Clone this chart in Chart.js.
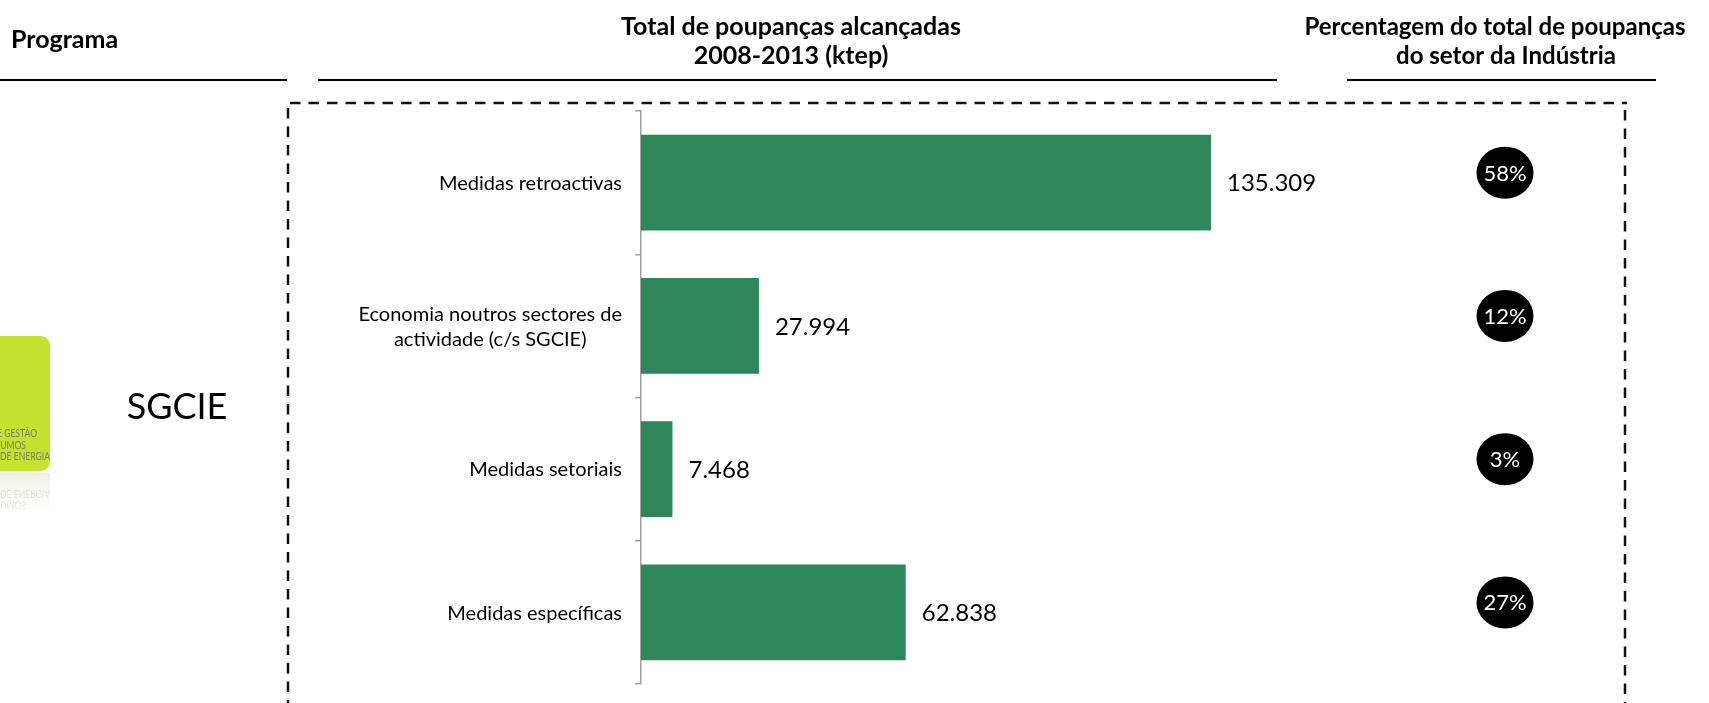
<!DOCTYPE html>
<html><head><meta charset="utf-8">
<script src="https://cdn.jsdelivr.net/npm/chart.js@4.4.1/dist/chart.umd.min.js"></script>
<style>html,body{margin:0;padding:0;background:#fff;overflow:hidden}#wrap{width:1709px;height:703px;position:relative}</style>
</head><body><div id="wrap"><canvas id="c"></canvas></div>
<script>
// ---- data ----
const categories = [
  ['Medidas retroactivas'],
  ['Economia noutros sectores de', 'actividade (c/s SGCIE)'],
  ['Medidas setoriais'],
  ['Medidas específicas']
];
const savings = [135309, 27994, 7468, 62838];
const shares = [58, 12, 3, 27];
const programmeName = 'SGCIE';
const headerProgramme = 'Programa';
const headerSavings = ['Total de poupanças alcançadas', '2008-2013 (ktep)'];
const headerShare = ['Percentagem do total de poupanças', 'do setor da Indústria'];
const logoLines = ['DE GESTÃO', 'SUMOS', 'OS DE ENERGIA'];
const xMax = 160000;

function fmt(v) { return String(v).replace(/\B(?=(\d{3})+(?!\d))/g, '.'); }
const FONT = 'Lato, "Open Sans", sans-serif';

function roundRect(ctx, x, y, w, h, r) {
  ctx.beginPath();
  ctx.moveTo(x + r, y);
  ctx.lineTo(x + w - r, y); ctx.quadraticCurveTo(x + w, y, x + w, y + r);
  ctx.lineTo(x + w, y + h - r); ctx.quadraticCurveTo(x + w, y + h, x + w - r, y + h);
  ctx.lineTo(x + r, y + h); ctx.quadraticCurveTo(x, y + h, x, y + h - r);
  ctx.lineTo(x, y + r); ctx.quadraticCurveTo(x, y, x + r, y);
  ctx.closePath();
}

function condensedText(ctx, text, rightX, y, k) {
  ctx.save();
  ctx.translate(rightX, y);
  ctx.scale(k, 1);
  ctx.textAlign = 'right';
  ctx.fillText(text, 0, 0);
  ctx.restore();
}

const deco = {
  id: 'deco',
  beforeDraw(chart) {
    const ctx = chart.ctx;
    ctx.save();
    // headers
    ctx.fillStyle = '#000';
    ctx.font = `bold 25px ${FONT}`;
    ctx.textBaseline = 'alphabetic';
    ctx.textAlign = 'left';
    ctx.fillText(headerProgramme, 11, 48);
    ctx.textAlign = 'center';
    ctx.fillText(headerSavings[0], 791, 35);
    ctx.fillText(headerSavings[1], 791, 64);
    ctx.font = `bold 24px ${FONT}`;
    ctx.fillText(headerShare[0], 1495, 35);
    ctx.fillText(headerShare[1], 1506, 64);
    // rules
    ctx.strokeStyle = '#000'; ctx.lineWidth = 2;
    [[0, 287], [318, 1277], [1347, 1656]].forEach(([a, b]) => {
      ctx.beginPath(); ctx.moveTo(a, 80); ctx.lineTo(b, 80); ctx.stroke();
    });
    // dashed frame
    ctx.setLineDash([10.5, 8]); ctx.lineWidth = 2.5; ctx.strokeStyle = '#111';
    ctx.beginPath(); ctx.moveTo(290, 103); ctx.lineTo(1627, 103); ctx.stroke();
    ctx.beginPath(); ctx.moveTo(288, 108); ctx.lineTo(288, 712); ctx.stroke();
    ctx.beginPath(); ctx.moveTo(1625, 110); ctx.lineTo(1625, 712); ctx.stroke();
    ctx.setLineDash([]);
    // logo (partially off-canvas)
    ctx.fillStyle = '#c4e22e';
    roundRect(ctx, -30, 336, 80, 135, 11); ctx.fill();
    const g = ctx.createLinearGradient(0, 473, 0, 525);
    g.addColorStop(0, 'rgba(215,225,190,0.45)');
    g.addColorStop(1, 'rgba(255,255,255,0)');
    ctx.fillStyle = g;
    ctx.fillRect(0, 473, 50, 52);
    ctx.font = `11px ${FONT}`;
    ctx.fillStyle = '#7a7e68';
    condensedText(ctx, logoLines[0], 37, 437, 0.78);
    condensedText(ctx, logoLines[1], 26, 449, 0.78);
    condensedText(ctx, logoLines[2], 50, 460, 0.78);
    ctx.fillStyle = 'rgba(150,150,140,0.22)';
    ctx.save(); ctx.translate(0, 950); ctx.scale(1, -1);
    condensedText(ctx, logoLines[2], 50, 460, 0.78);
    condensedText(ctx, logoLines[1], 26, 449, 0.78);
    ctx.restore();
    // programme name
    ctx.fillStyle = '#000';
    ctx.font = `36px ${FONT}`;
    ctx.textAlign = 'center';
    ctx.fillText(programmeName, 177, 419);
    ctx.restore();
  },
  afterDatasetsDraw(chart) {
    const ctx = chart.ctx;
    const yS = chart.scales.y;
    const meta = chart.getDatasetMeta(0);
    ctx.save();
    ctx.textBaseline = 'alphabetic';
    // value labels
    ctx.font = `24px ${FONT}`;
    ctx.fillStyle = '#000';
    ctx.textAlign = 'left';
    meta.data.forEach((bar, i) => {
      ctx.fillText(fmt(savings[i]), bar.x + 16, bar.y + 0.36 * 24);
    });
    // category labels
    ctx.font = `20px ${FONT}`;
    ctx.textAlign = 'center';
    categories.forEach((lines, i) => {
      const yc = yS.getPixelForValue(i);
      const w = Math.max(...lines.map(l => ctx.measureText(l).width));
      const right = chart.chartArea.left - 19;
      const cx = right - w / 2;
      lines.forEach((l, k) => {
        ctx.fillText(l, cx, yc + 0.36 * 20 + (k - (lines.length - 1) / 2) * 25);
      });
    });
    // share bubbles
    shares.forEach((s, i) => {
      const yc = yS.getPixelForValue(i) - 10;
      ctx.beginPath();
      ctx.ellipse(1505, yc, 28.5, 26, 0, 0, Math.PI * 2);
      ctx.fillStyle = '#000'; ctx.fill();
      ctx.fillStyle = '#fff';
      ctx.font = `22px ${FONT}`;
      ctx.fillText(s + '%', 1505, yc + 0.36 * 22);
    });
    ctx.restore();
  }
};

new Chart(document.getElementById('c'), {
  type: 'bar',
  data: {
    labels: categories,
    datasets: [{
      data: savings,
      backgroundColor: '#2e875b',
      borderWidth: 0,
      barPercentage: 0.67,
      categoryPercentage: 1
    }]
  },
  options: {
    indexAxis: 'y',
    responsive: true,
    maintainAspectRatio: false,
    animation: false,
    events: [],
    layout: { padding: { top: 111, bottom: 19, right: 394, left: 0 } },
    plugins: { legend: { display: false }, tooltip: { enabled: false } },
    scales: {
      x: { display: false, min: 0, max: xMax },
      y: {
        z: 1,
        ticks: { display: false },
        grid: { display: true, drawOnChartArea: false, drawTicks: true, tickLength: 6, color: '#a0a0a0', lineWidth: 1.5, offset: true },
        border: { display: true, color: '#a0a0a0', width: 1.5 },
        afterFit(s) { s.width = 641; }
      }
    }
  },
  plugins: [deco]
});
</script>
</body></html>
